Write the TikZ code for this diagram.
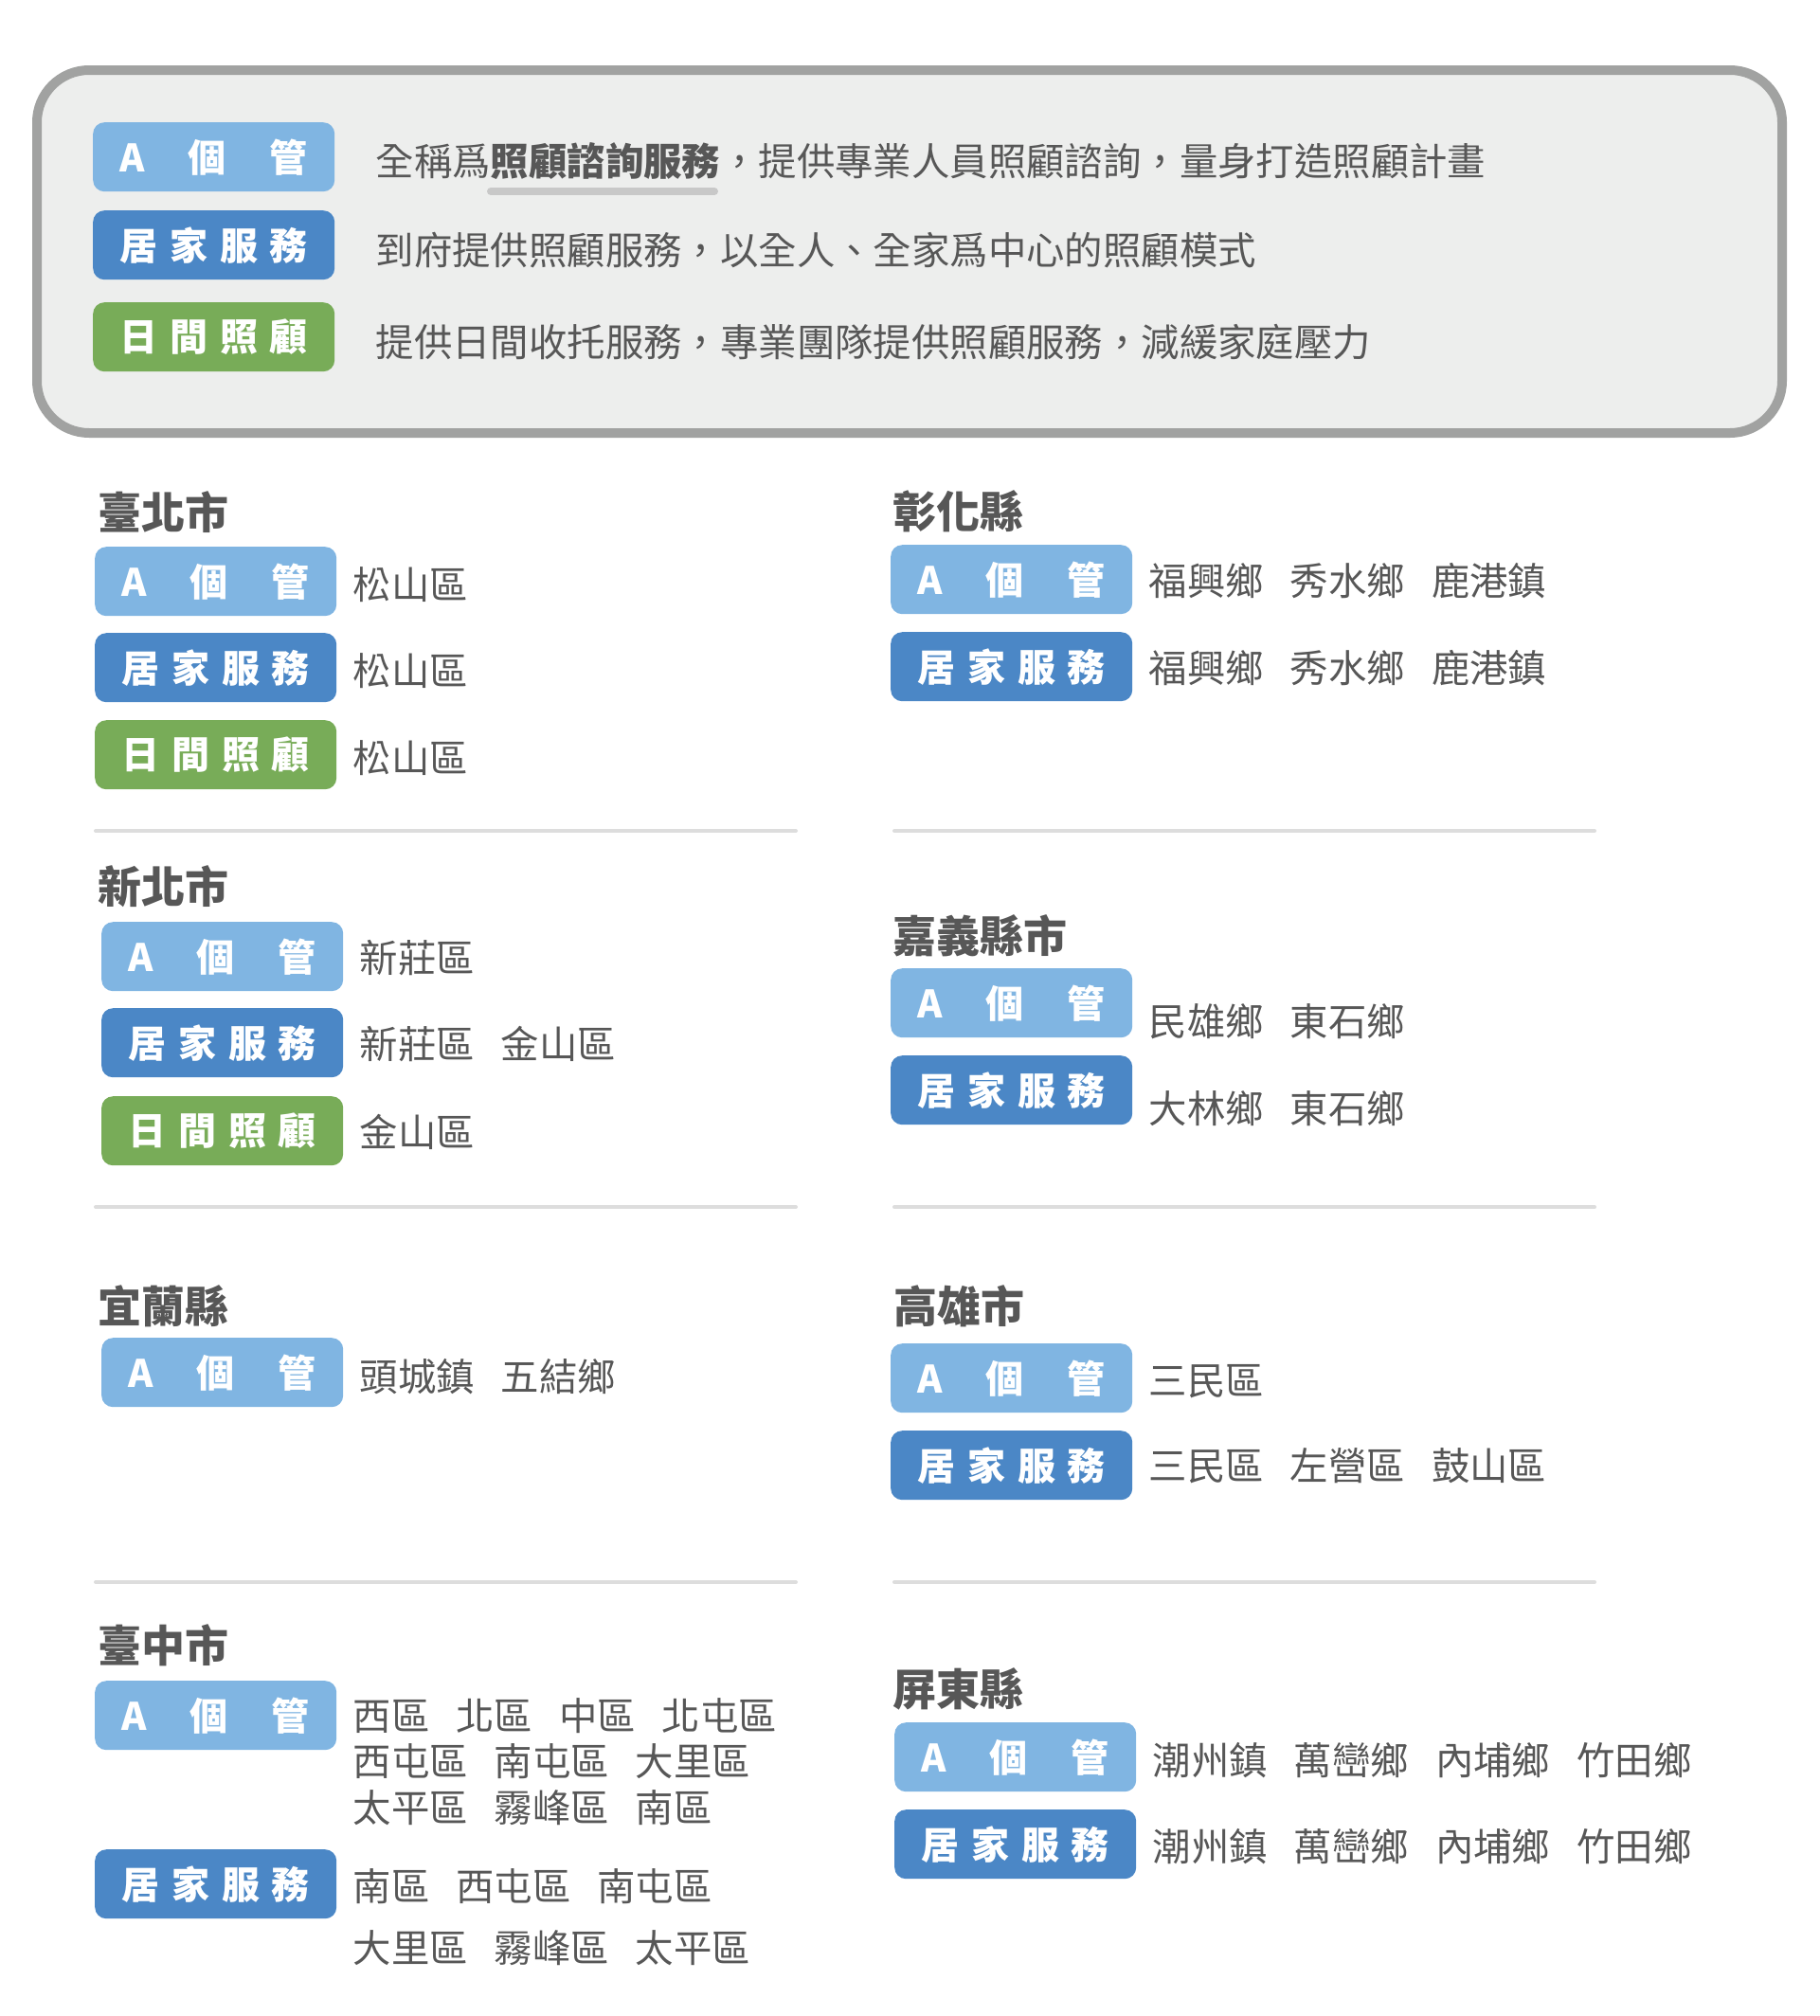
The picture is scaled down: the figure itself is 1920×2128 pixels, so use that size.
\documentclass[tikz,border=0pt]{standalone}
\usepackage{fontspec}
\setmainfont{Noto Sans CJK TC}
\usepackage{xcolor}
\definecolor{casecol}{HTML}{80B5E2}
\definecolor{homecol}{HTML}{4B87C6}
\definecolor{daycol}{HTML}{78AC58}
\definecolor{inkgray}{HTML}{575757}
\definecolor{panelfill}{HTML}{EDEEED}
\definecolor{paneledge}{HTML}{A1A2A1}
\definecolor{rulegray}{HTML}{DDDDDD}
\definecolor{markgray}{HTML}{C8C8C8}
\tikzset{
    tagbox/.style={
        rounded corners=12pt,
        minimum width=255pt,
        minimum height=73pt,
        inner sep=0pt,
        anchor=north west,
        text=white,
        font=\fontsize{40}{40}\selectfont\bfseries
    },
    city/.style={anchor=west,inner sep=0pt,text=inkgray,font=\fontsize{46}{46}\selectfont\bfseries},
    area/.style={anchor=west,inner sep=0pt,text=inkgray,font=\fontsize{40.4}{40.4}\selectfont},
    sepline/.style={draw=rulegray,line width=4pt,line cap=round}
}
\newcommand{\wsp}{\hspace{28pt}}
\newcommand{\casetag}[3] {
    \node[tagbox,fill=casecol] (#1) at (#2, #3) {\hbox to 198pt{A\hfill 個\hfill 管}};
}
\newcommand{\hometag}[3] {
    \node[tagbox,fill=homecol] (#1) at (#2, #3) {\hbox to 198pt{居\hfill 家\hfill 服\hfill 務}};
}
\newcommand{\daytag}[3] {
    \node[tagbox,fill=daycol] (#1) at (#2, #3) {\hbox to 198pt{日\hfill 間\hfill 照\hfill 顧}};
}
\newcommand{\areas}[3] {
    \node[area] (#1-t) at ([xshift=17pt,yshift=#2]#1.east) {#3};
}

\begin{document}
\begin{tikzpicture}[x=1pt,y=-1pt]
    \useasboundingbox (0,0) rectangle (1920,2128);
    \draw[paneledge,fill=panelfill,line width=10pt,rounded corners=55pt] (39,74) rectangle (1881,457);
    \casetag{keyA}{98}{129}
    \hometag{keyH}{98}{222}
    \daytag{keyD}{98}{319}
    \draw[markgray,line width=8pt,line cap=round] (518,202) -- (754,202);
    \node[area] (keyA-t) at ([xshift=43pt,yshift=-4pt]keyA.east) {全稱爲\textbf{照顧諮詢服務}，提供專業人員照顧諮詢，量身打造照顧計畫};
    \node[area] (keyH-t) at ([xshift=43pt,yshift=-5pt]keyH.east) {到府提供照顧服務，以全人、全家爲中心的照顧模式};
    \node[area] (keyD-t) at ([xshift=43pt,yshift=-5pt]keyD.east) {提供日間收托服務，專業團隊提供照顧服務，減緩家庭壓力};

    \node[city] (taipei) at (103,541) {臺北市};
    \casetag{taipeiA}{100}{577}
    \hometag{taipeiH}{100}{668}
    \daytag{taipeiD}{100}{760}
    \areas{taipeiA}{-3pt}{松山區}
    \areas{taipeiH}{-3pt}{松山區}
    \areas{taipeiD}{-3pt}{松山區}

    \node[city] (newtaipei) at (103,936) {新北市};
    \casetag{newtaipeiA}{107}{973}
    \hometag{newtaipeiH}{107}{1064}
    \daytag{newtaipeiD}{107}{1157}
    \areas{newtaipeiA}{-1pt}{新莊區}
    \areas{newtaipeiH}{-1pt}{新莊區\wsp 金山區}
    \areas{newtaipeiD}{-1pt}{金山區}

    \node[city] (yilan) at (103,1379) {宜蘭縣};
    \casetag{yilanA}{107}{1412}
    \areas{yilanA}{-4pt}{頭城鎮\wsp 五結鄉}

    \node[city] (taichung) at (103,1737) {臺中市};
    \casetag{taichungA}{100}{1774}
    \hometag{taichungH}{100}{1952}
    \areas{taichungA}{0pt}{西區\wsp 北區\wsp 中區\wsp 北屯區}
    \node[area] (taichungA-t2) at ([yshift=-48pt]taichungA-t.west) {西屯區\wsp 南屯區\wsp 大里區};
    \node[area] (taichungA-t3) at ([yshift=-49pt]taichungA-t2.west) {太平區\wsp 霧峰區\wsp 南區};
    \areas{taichungH}{-2pt}{南區\wsp 西屯區\wsp 南屯區}
    \node[area] (taichungH-t2) at ([yshift=-65pt]taichungH-t.west) {大里區\wsp 霧峰區\wsp 太平區};

    \node[city] (changhua) at (942,540) {彰化縣};
    \casetag{changhuaA}{940}{575}
    \hometag{changhuaH}{940}{667}
    \areas{changhuaA}{-1pt}{福興鄉\wsp 秀水鄉\wsp 鹿港鎮}
    \areas{changhuaH}{-1pt}{福興鄉\wsp 秀水鄉\wsp 鹿港鎮}

    \node[city] (chiayi) at (942,988) {嘉義縣市};
    \casetag{chiayiA}{940}{1022}
    \hometag{chiayiH}{940}{1114}
    \areas{chiayiA}{-20pt}{民雄鄉\wsp 東石鄉}
    \areas{chiayiH}{-19pt}{大林鄉\wsp 東石鄉}

    \node[city] (kaohsiung) at (943,1379) {高雄市};
    \casetag{kaohsiungA}{940}{1418}
    \hometag{kaohsiungH}{940}{1510}
    \areas{kaohsiungA}{-3pt}{三民區}
    \areas{kaohsiungH}{-1pt}{三民區\wsp 左營區\wsp 鼓山區}

    \node[city] (pingtung) at (942,1783) {屏東縣};
    \casetag{pingtungA}{944}{1818}
    \hometag{pingtungH}{944}{1910}
    \areas{pingtungA}{-3pt}{潮州鎮\wsp 萬巒鄉\wsp 內埔鄉\wsp 竹田鄉}
    \areas{pingtungH}{-2pt}{潮州鎮\wsp 萬巒鄉\wsp 內埔鄉\wsp 竹田鄉}

    \foreach \y in {877,1274,1670} {
        \draw[sepline] (101,\y) -- (840,\y);
        \draw[sepline] (944,\y) -- (1683,\y);
    }
\end{tikzpicture}
\end{document}
